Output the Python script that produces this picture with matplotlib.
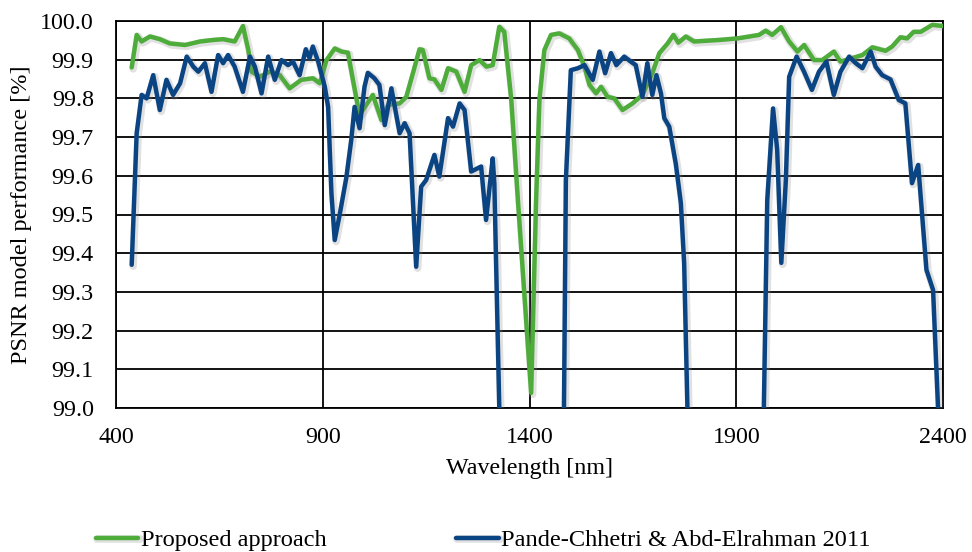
import numpy as np
import matplotlib
matplotlib.use("Agg")
import matplotlib.pyplot as plt
import matplotlib.patheffects as pe

plt.rcParams['font.family'] = ['Liberation Serif', 'DejaVu Serif']

# ---- data ----
green_wl = [438, 450, 462, 482, 506, 530, 567, 603, 635, 659, 687, 707, 720, 728, 748, 772,
            796, 820, 848, 876, 893, 909, 929, 945, 961, 973, 989, 1021, 1042, 1058, 1086,
            1102, 1118, 1134, 1142, 1158, 1170, 1187, 1203, 1223, 1243, 1259, 1279, 1296,
            1311, 1327, 1339, 1356, 1372, 1404, 1416, 1424, 1436, 1452, 1472, 1496, 1517,
            1533, 1545, 1561, 1573, 1589, 1605, 1625, 1649, 1673, 1697, 1714, 1734, 1748,
            1760, 1778, 1798, 1859, 1903, 1955, 1971, 1987, 2008, 2028, 2048, 2064, 2088,
            2108, 2136, 2152, 2180, 2205, 2229, 2261, 2277, 2297, 2313, 2329, 2346, 2374, 2400]
green_val = [99.880, 99.964, 99.947, 99.960, 99.953, 99.942, 99.938, 99.947, 99.951, 99.953,
             99.947, 99.987, 99.925, 99.869, 99.856, 99.869, 99.860, 99.826, 99.848, 99.852,
             99.839, 99.899, 99.929, 99.921, 99.918, 99.848, 99.757, 99.809, 99.744, 99.783,
             99.787, 99.804, 99.865, 99.927, 99.925, 99.852, 99.849, 99.822, 99.878, 99.869,
             99.817, 99.886, 99.899, 99.882, 99.886, 99.985, 99.972, 99.796, 99.537, 99.039,
             99.537, 99.796, 99.925, 99.964, 99.968, 99.955, 99.925, 99.882, 99.835, 99.813,
             99.830, 99.804, 99.800, 99.770, 99.787, 99.809, 99.865, 99.917, 99.942, 99.964,
             99.944, 99.960, 99.947, 99.951, 99.955, 99.964, 99.975, 99.964, 99.984, 99.947,
             99.921, 99.938, 99.899, 99.899, 99.921, 99.895, 99.904, 99.912, 99.932, 99.923,
             99.934, 99.958, 99.955, 99.972, 99.972, 99.990, 99.987]

blue_wl = [438, 450, 462, 474, 490, 506, 522, 538, 555, 571, 587, 599, 615, 631, 647, 659,
           671, 687, 707, 724, 736, 752, 768, 784, 800, 816, 828, 844, 859, 868, 876, 889,
           905, 913, 921, 929, 941, 957, 969, 977, 989, 1001, 1009, 1025, 1037, 1050, 1066,
           1086, 1098, 1110, 1126, 1138, 1150, 1170, 1182, 1203, 1215, 1231, 1243, 1259,
           1283, 1295, 1311, 1315, 1328, 1400,
           1483, 1488, 1500, 1517, 1533, 1553, 1569, 1583, 1597, 1610, 1629, 1645, 1657,
           1673, 1685, 1697, 1707, 1718, 1726, 1738, 1754, 1766, 1774, 1783, 1870,
           1966, 1975, 1989, 1999, 2009, 2020, 2028, 2046, 2064, 2083, 2100, 2118, 2136,
           2152, 2173, 2189, 2205, 2225, 2237, 2253, 2273, 2293, 2309, 2325, 2340, 2360,
           2376, 2390]
blue_val = [99.370, 99.710, 99.809, 99.800, 99.860, 99.770, 99.848, 99.809, 99.839, 99.908,
            99.882, 99.869, 99.891, 99.817, 99.912, 99.891, 99.912, 99.882, 99.817, 99.908,
            99.882, 99.813, 99.908, 99.848, 99.899, 99.886, 99.895, 99.860, 99.927, 99.904,
            99.934, 99.895, 99.830, 99.778, 99.555, 99.434, 99.500, 99.595, 99.693, 99.778,
            99.723, 99.830, 99.866, 99.852, 99.835, 99.731, 99.826, 99.710, 99.736, 99.710,
            99.365, 99.572, 99.589, 99.654, 99.598, 99.749, 99.727, 99.787, 99.770, 99.611,
            99.624, 99.486, 99.645, 99.580, 98.950, np.nan,
            98.950, 99.589, 99.873, 99.878, 99.886, 99.848, 99.921, 99.865, 99.917, 99.886,
            99.908, 99.895, 99.886, 99.804, 99.891, 99.809, 99.860, 99.813, 99.749, 99.727,
            99.630, 99.530, 99.375, 98.950, np.nan,
            98.950, 99.537, 99.774, 99.667, 99.375, 99.589, 99.856, 99.908, 99.869, 99.822,
            99.869, 99.895, 99.809, 99.869, 99.908, 99.891, 99.878, 99.921, 99.882, 99.860,
            99.849, 99.796, 99.787, 99.581, 99.628, 99.357, 99.305, 98.950]

x_ticks = [400, 900, 1400, 1900, 2400]
y_ticks = [99.0, 99.1, 99.2, 99.3, 99.4, 99.5, 99.6, 99.7, 99.8, 99.9, 100.0]

label_green = "Proposed approach"
label_blue = "Pande-Chhetri & Abd-Elrahman 2011"

# ---- figure ----
fig = plt.figure(figsize=(9.72, 5.52), dpi=100)
ax = fig.add_axes([116 / 972, 1 - 408 / 552, (943 - 116) / 972, (408 - 21) / 552])

shadow = [pe.SimpleLineShadow(offset=(1.0, -1.0), shadow_color='#888888', alpha=0.25, linewidth=5.5),
          pe.Normal()]

ax.plot(green_wl, green_val, color='#4DAC3A', lw=3.2, solid_joinstyle='round',
        solid_capstyle='round', label=label_green, path_effects=shadow, zorder=3)
ax.plot(blue_wl, blue_val, color='#0B4483', lw=3.2, solid_joinstyle='round',
        solid_capstyle='round', label=label_blue, path_effects=shadow, zorder=4)

ax.set_xlim(400, 2400)
ax.set_ylim(99.0, 100.0)
ax.set_xticks(x_ticks)
ax.set_yticks(y_ticks)
ax.set_yticklabels([f"{v:.1f}" for v in y_ticks])
ax.grid(True, color='black', lw=1.3)
ax.set_axisbelow(True)
for s in ax.spines.values():
    s.set_color('black')
    s.set_linewidth(1.3)
ax.tick_params(axis='both', length=0, labelsize=17.3)
ax.tick_params(axis='y', pad=16)
ax.tick_params(axis='x', pad=14)

ax.set_xlabel("Wavelength [nm]", fontsize=17.3, labelpad=7)
ax.set_ylabel("PSNR model performance [%]", fontsize=17.5, labelpad=6)

fig.legend(loc='center', bbox_to_anchor=(0.497, 1 - 540 / 552), ncol=2, frameon=False,
           fontsize=17.6, handlelength=1.75, handletextpad=0.1, columnspacing=5.3)

fig.savefig("out.png", dpi=100)
